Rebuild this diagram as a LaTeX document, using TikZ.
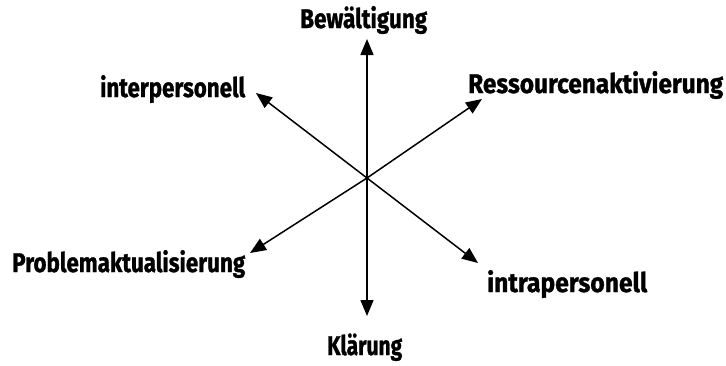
\documentclass[tikz,border=0pt]{standalone}
\usepackage{fontspec}
\setmainfont{Fira Sans}
\newfontfamily\lblfont{Fira Sans}[BoldFeatures={FakeBold=1.2}]
\usepackage{graphicx}
\usetikzlibrary{arrows.meta}
\newcommand\mylbl[2]{\resizebox{#1pt}{\height}{#2}}
\tikzset{
  lbl/.style={anchor=base west, inner sep=0pt, font=\lblfont\fontsize{27}{30}\selectfont\bfseries},
  axis/.style={line width=1.5pt, -{Triangle[length=16pt,width=13pt]}}
}
\begin{document}
\begin{tikzpicture}[x=1pt,y=-1pt]
\useasboundingbox (0,0) rectangle (726,365);
\coordinate (c) at (367,178);
\coordinate (top) at (367,39);
\coordinate (bot) at (367,316);
\coordinate (ul) at (256,93);
\coordinate (lr) at (478,263);
\coordinate (ur) at (482,99);
\coordinate (ll) at (250,253);
\draw[axis] (c) -- (top);
\draw[axis] (c) -- (bot);
\draw[axis] (c) -- (ul);
\draw[axis] (c) -- (lr);
\draw[axis] (c) -- (ur);
\draw[axis] (c) -- (ll);
\node[lbl] (bew) at (300,28) {\mylbl{127}{Bewältigung}};
\node[lbl] (inter) at (100,97) {\mylbl{145}{interpersonell}};
\node[lbl] (res) at (468,93) {\mylbl{255}{Ressourcenaktivierung}};
\node[lbl] (prob) at (12,272) {\mylbl{233}{Problemaktualisierung}};
\node[lbl] (intra) at (487,292) {\mylbl{160}{intrapersonell}};
\node[lbl] (klar) at (327,355) {\mylbl{75}{Klärung}};
\end{tikzpicture}
\end{document}
